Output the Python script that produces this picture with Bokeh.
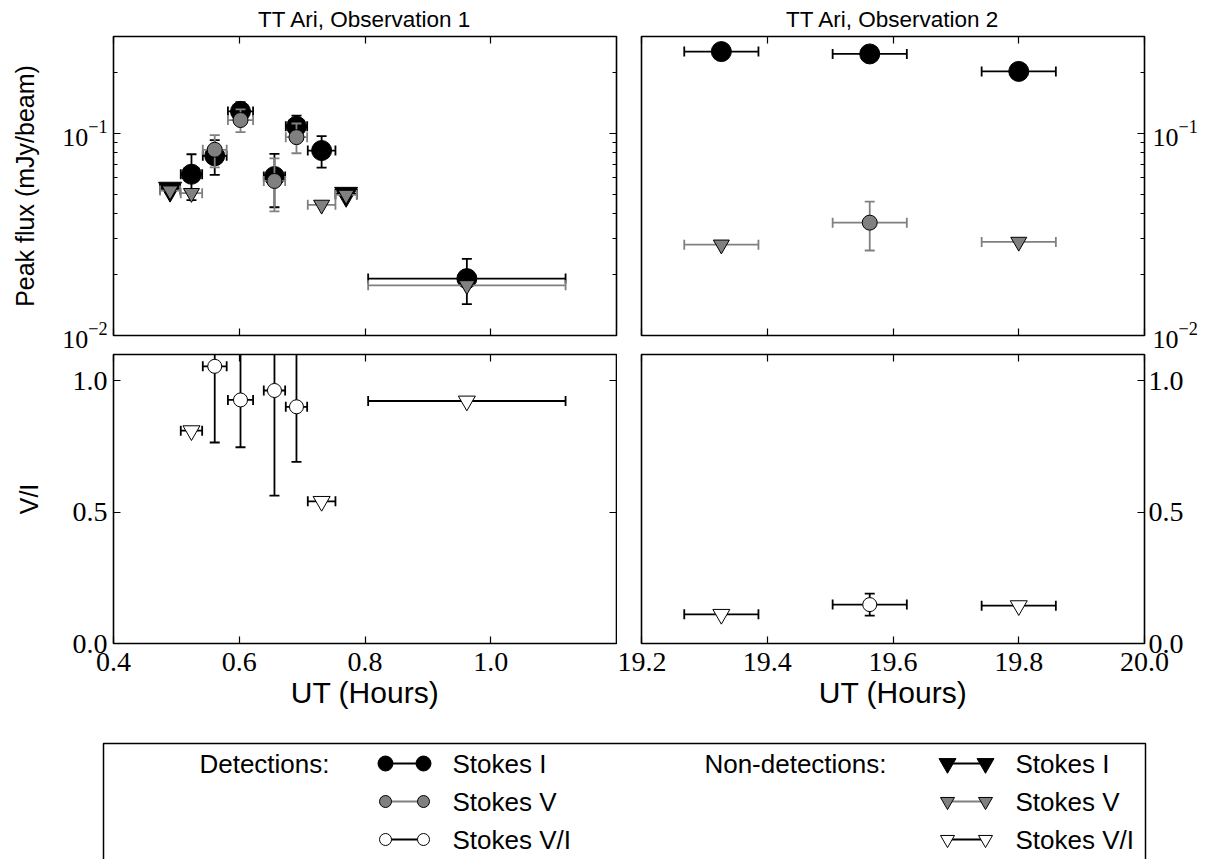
import math
from bokeh.plotting import figure
from bokeh.models import (Range1d, FixedTicker, LinearAxis, LogAxis, ColumnDataSource,
                          PrintfTickFormatter)
from bokeh.layouts import column, row
from bokeh.embed import file_html
from bokeh.resources import INLINE
from bokeh.core.properties import value

# ---------------- data ----------------
# Observation 1, UT hours
t1      = [0.490, 0.524, 0.561, 0.602, 0.656, 0.691, 0.731, 0.770, 0.962]
t1_err  = [0.016, 0.017, 0.019, 0.020, 0.017, 0.017, 0.022, 0.017, 0.157]
I1      = [0.053, 0.0626, 0.0772, 0.128, 0.061, 0.108, 0.082, 0.050, 0.0191]
I1_err  = [0.0, 0.016, 0.015, 0.014, 0.018, 0.014, 0.0145, 0.0, 0.0048]
I1_det  = [False, True, True, True, True, True, True, False, True]
V1      = [0.052, 0.0505, 0.0827, 0.116, 0.058, 0.0955, 0.0442, 0.0495, 0.0177]
V1_err  = [0.0, 0.0, 0.015, 0.015, 0.017, 0.016, 0.0, 0.0, 0.0]
V1_det  = [False, False, True, True, True, True, False, False, False]
VI1     = [None, 0.810, 1.055, 0.927, 0.963, 0.901, 0.541, None, 0.923]
VI1_err = [0.0, 0.0, 0.29, 0.18, 0.40, 0.21, 0.0, 0.0, 0.0]
VI1_det = [False, False, True, True, True, True, False, False, False]

# Observation 2, UT hours
t2      = [19.327, 19.563, 19.800]
t2_err  = [0.059, 0.059, 0.059]
I2      = [0.2527, 0.246, 0.2017]
I2_err  = [0.008, 0.008, 0.008]
I2_det  = [True, True, True]
V2      = [0.0281, 0.0361, 0.0290]
V2_err  = [0.0, 0.0098, 0.0]
V2_det  = [False, True, False]
VI2     = [0.111, 0.148, 0.144]
VI2_err = [0.0, 0.042, 0.0]
VI2_det = [False, True, False]

x_ticks_1 = [0.4, 0.6, 0.8, 1.0]
x_ticks_2 = [19.2, 19.4, 19.6, 19.8, 20.0]
flux_ticks = [0.01, 0.1]
flux_minor = [k * 10.0 ** e for e in (-2, -1) for k in range(2, 10) if k * 10.0 ** e <= 0.3]
ratio_ticks = [0.0, 0.5, 1.0]

titles = ["TT Ari, Observation 1", "TT Ari, Observation 2"]
legend_headers = ["Detections:", "Non-detections:"]
legend_labels = ["Stokes I", "Stokes V", "Stokes V/I"]

# ---------------- styles ----------------
GRAY = "#808080"
SANS = "Liberation Sans"
SERIF = "Liberation Serif"
TICK_FS = "28px"
LOG_FS = "26px"
CAP = 10
BAR_W = 1.8


def pick(t, terr, y, yerr, mask, want):
    idx = [i for i, m in enumerate(mask) if m == want and y[i] is not None]
    return dict(x=[t[i] for i in idx], xerr=[terr[i] for i in idx],
                y=[y[i] for i in idx], yerr=[yerr[i] for i in idx])


def draw(p, d, bar_color, marker, size, fill, ybars):
    x, xe, y, ye = d["x"], d["xerr"], d["y"], d["yerr"]
    src = ColumnDataSource(dict(
        x=x, y=y,
        xl=[a - b for a, b in zip(x, xe)], xh=[a + b for a, b in zip(x, xe)],
        yl=[a - b for a, b in zip(y, ye)], yh=[a + b for a, b in zip(y, ye)]))
    p.segment(x0="xl", y0="y", x1="xh", y1="y", source=src, line_color=bar_color, line_width=BAR_W)
    for c in ("xl", "xh"):
        p.scatter(x=c, y="y", source=src, marker="dash", angle=math.pi / 2, size=CAP,
                  line_color=bar_color, line_width=BAR_W)
    if ybars:
        p.segment(x0="x", y0="yl", x1="x", y1="yh", source=src, line_color=bar_color, line_width=BAR_W)
        for c in ("yl", "yh"):
            p.scatter(x="x", y=c, source=src, marker="dash", size=CAP,
                      line_color=bar_color, line_width=BAR_W)
    p.scatter(x="x", y="y", source=src, marker=marker, size=size, fill_color=fill,
              line_color="black", line_width=1.0)


def add_axis(p, side, ticks, minor=None, log=False, labels=True, fmt=None,
             label=None, label_fs="25px", label_standoff=10, standoff=6):
    ax = LogAxis() if log else LinearAxis()
    ax.ticker = FixedTicker(ticks=ticks, minor_ticks=minor or [])
    if fmt is not None:
        ax.formatter = fmt
    ax.axis_line_color = None
    ax.major_tick_in = 7
    ax.major_tick_out = 0
    ax.minor_tick_in = 4
    ax.minor_tick_out = 0
    ax.major_tick_line_color = "black"
    ax.major_tick_line_width = 1.2
    ax.minor_tick_line_color = "black"
    ax.minor_tick_line_width = 1.0
    ax.major_label_text_font = SERIF
    ax.major_label_text_color = "black"
    if labels:
        ax.major_label_text_font_size = LOG_FS if log else TICK_FS
        ax.major_label_standoff = standoff
    else:
        ax.major_label_text_font_size = "1px"
        ax.major_label_text_alpha = 0.0
        ax.major_label_standoff = 0
    if label:
        ax.axis_label = label
        ax.axis_label_text_font = SANS
        ax.axis_label_text_font_style = "normal"
        ax.axis_label_text_font_size = label_fs
        ax.axis_label_text_color = "black"
        ax.axis_label_standoff = label_standoff
    p.add_layout(ax, side)
    return ax


def base_fig(xr, yr, log, w, h, bl, br, bt, bb, title=None):
    kw = dict(width=w, height=h, x_range=xr, y_range=yr,
              y_axis_type="log" if log else "linear",
              x_axis_location=None, y_axis_location=None,
              toolbar_location=None, output_backend="svg",
              min_border_left=bl, min_border_right=br,
              min_border_top=bt, min_border_bottom=bb)
    if title:
        kw["title"] = title
    p = figure(**kw)
    p.grid.grid_line_color = None
    p.outline_line_color = "black"
    p.outline_line_width = 1.6
    p.outline_line_alpha = 1.0
    p.background_fill_color = "white"
    p.border_fill_color = "white"
    if title:
        p.title.align = "center"
        p.title.text_font = SANS
        p.title.text_font_style = "normal"
        p.title.text_font_size = "22.5px"
        p.title.text_color = "black"
        p.title.standoff = 9
    return p


FRAME_W, TOP_H, BOT_H = 503, 299, 297
L_B, GAP_L, GAP_R, R_B = 113, 12, 13, 70
TOP_T, TOP_B, BOT_T, BOT_B = 36, 18, 1, 60
fmt1 = PrintfTickFormatter(format="%.1f")

# ---------- top-left ----------
tl = base_fig(Range1d(0.4, 1.2), Range1d(0.01, 0.3), True,
              L_B + FRAME_W + GAP_L, TOP_T + TOP_H + TOP_B, L_B, GAP_L, TOP_T, TOP_B,
              title=titles[0])
add_axis(tl, "left", flux_ticks, flux_minor, log=True, label="Peak flux (mJy/beam)",
         label_standoff=20)
add_axis(tl, "right", flux_ticks, flux_minor, log=True, labels=False)
add_axis(tl, "above", x_ticks_1, labels=False)
add_axis(tl, "below", x_ticks_1, labels=False)

# ---------- top-right ----------
tr = base_fig(Range1d(19.2, 20.0), Range1d(0.01, 0.3), True,
              GAP_R + FRAME_W + R_B, TOP_T + TOP_H + TOP_B, GAP_R, R_B, TOP_T, TOP_B,
              title=titles[1])
add_axis(tr, "right", flux_ticks, flux_minor, log=True, standoff=8)
add_axis(tr, "above", x_ticks_2, labels=False)
add_axis(tr, "below", x_ticks_2, labels=False)

# ---------- bottom-left ----------
bl = base_fig(Range1d(0.4, 1.2), Range1d(0.0, 1.1), False,
              L_B + FRAME_W + 1, BOT_T + BOT_H + BOT_B, L_B, 1, BOT_T, BOT_B)
add_axis(bl, "left", ratio_ticks, fmt=fmt1, label="V/I", label_standoff=27)
add_axis(bl, "right", ratio_ticks, labels=False)
add_axis(bl, "above", x_ticks_1, labels=False)
add_axis(bl, "below", x_ticks_1, fmt=fmt1, label="UT (Hours)", label_fs="30px",
         label_standoff=2, standoff=9)

# ---------- bottom-right ----------
br = base_fig(Range1d(19.2, 20.0), Range1d(0.0, 1.1), False,
              (GAP_L + GAP_R - 1) + FRAME_W + R_B, BOT_T + BOT_H + BOT_B,
              GAP_L + GAP_R - 1, R_B, BOT_T, BOT_B)
add_axis(br, "right", ratio_ticks, fmt=fmt1, standoff=4)
add_axis(br, "above", x_ticks_2, labels=False)
add_axis(br, "below", x_ticks_2, fmt=fmt1, label="UT (Hours)", label_fs="30px",
         label_standoff=2, standoff=9)

# ---------- data marks ----------
for (p_top, p_bot, t, te, I, Ie, Id, V, Ve, Vd, R, Re, Rd) in [
        (tl, bl, t1, t1_err, I1, I1_err, I1_det, V1, V1_err, V1_det, VI1, VI1_err, VI1_det),
        (tr, br, t2, t2_err, I2, I2_err, I2_det, V2, V2_err, V2_det, VI2, VI2_err, VI2_det)]:
    draw(p_top, pick(t, te, I, Ie, Id, True), "black", "circle", 20, "black", True)
    draw(p_top, pick(t, te, I, Ie, Id, False), "black", "inverted_triangle", 23, "black", False)
    draw(p_top, pick(t, te, V, Ve, Vd, True), GRAY, "circle", 15, GRAY, True)
    draw(p_top, pick(t, te, V, Ve, Vd, False), GRAY, "inverted_triangle", 16, GRAY, False)
    draw(p_bot, pick(t, te, R, Re, Rd, True), "black", "circle", 14, "white", True)
    draw(p_bot, pick(t, te, R, Re, Rd, False), "black", "inverted_triangle", 17, "white", False)

# ---------- legend panel ----------
LW, LH = 1214, 148
leg = figure(width=LW, height=LH, x_range=Range1d(0, LW), y_range=Range1d(LH, 0),
             x_axis_location=None, y_axis_location=None, toolbar_location=None,
             output_backend="svg", min_border=0)
leg.grid.grid_line_color = None
leg.outline_line_color = None
leg.quad(left=[103], right=[1145], top=[32], bottom=[LH + 100], fill_color=None,
         line_color="black", line_width=1.5)

row_y = [52, 90, 128]
header_x = [329, 886]
marker_x = [(385, 423), (947, 985)]
text_x = [452, 1015]
styles = [
    # (line colour, marker, size, fill)
    [("black", "circle", 15, "black"), (GRAY, "circle", 12, GRAY), ("black", "circle", 12, "white")],
    [("black", "inverted_triangle", 17, "black"), (GRAY, "inverted_triangle", 14, GRAY),
     ("black", "inverted_triangle", 14, "white")],
]
for col in range(2):
    leg.text(x=[header_x[col]], y=[row_y[0]], text=[legend_headers[col]], text_align="right",
             text_baseline="middle", text_font=value(SANS), text_font_size="26px", text_color="black")
    for r in range(3):
        lc, mk, sz, fc = styles[col][r]
        xa, xb = marker_x[col]
        leg.segment(x0=[xa], y0=[row_y[r]], x1=[xb], y1=[row_y[r]], line_color=lc, line_width=1.8)
        leg.scatter(x=[xa, xb], y=[row_y[r], row_y[r]], marker=mk, size=sz, fill_color=fc,
                    line_color="black", line_width=1.0)
        leg.text(x=[text_x[col]], y=[row_y[r]], text=[legend_labels[r]], text_align="left",
                 text_baseline="middle", text_font=value(SANS), text_font_size="26px",
                 text_color="black")

layout = column(row(tl, tr), row(bl, br), leg)
open("out.html", "w").write(file_html(layout, INLINE))
